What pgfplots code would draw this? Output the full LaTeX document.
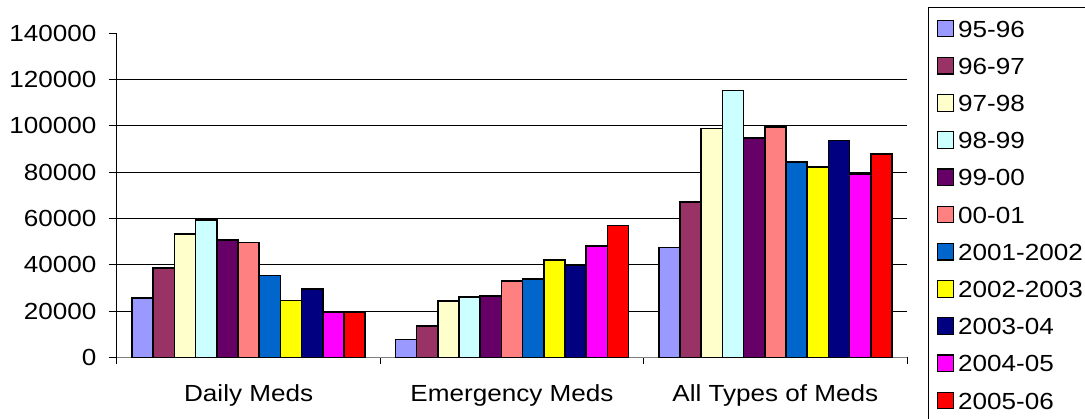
\documentclass[border=0pt]{standalone}
\usepackage{fontspec}
\setmainfont{Liberation Sans}[FakeStretch=1.12]
\usepackage{pgfplots}
\pgfplotsset{compat=1.18}

\definecolor{s1}{HTML}{9999FF}
\definecolor{s2}{HTML}{993366}
\definecolor{s3}{HTML}{FFFFCC}
\definecolor{s4}{HTML}{CCFFFF}
\definecolor{s5}{HTML}{660066}
\definecolor{s6}{HTML}{FF8080}
\definecolor{s7}{HTML}{0066CC}
\definecolor{s8}{HTML}{FFFF00}
\definecolor{s9}{HTML}{000080}
\definecolor{s10}{HTML}{FF00FF}
\definecolor{s11}{HTML}{FF0000}

\newcommand{\lab}{\fontsize{23.3}{28}\selectfont}

\begin{document}
\begin{tikzpicture}
% the picture is cut to the reference's frame; the legend box runs past it
\useasboundingbox (-117pt,-60.7pt) rectangle (968pt,357.3pt);
\begin{axis}[
    scale only axis,
    width=790pt,
    height=324pt,
    xmin=-0.5, xmax=2.5,
    ymin=0, ymax=140000,
    ybar=0pt,
    bar width=21.2pt,
    axis x line*=bottom,
    axis y line*=left,
    x axis line style={draw=black!50, line width=1.5pt},
    y axis line style={line width=1pt},
    xtick={0,1,2},
    xticklabels={Daily Meds, Emergency Meds, All Types of Meds},
    major x tick style={draw=none},
    minor xtick={-0.5,0.5,1.5,2.5},
    minor x tick style={black, line width=1pt},
    minor tick length=7pt,
    ytick={0,20000,40000,60000,80000,100000,120000},
    yticklabels={0,20000,40000,60000,80000,100000,120000},
    extra y ticks={140000},
    extra y tick labels={140000},
    extra y tick style={grid=none},
    ymajorgrids,
    grid style={black, line width=0.8pt},
    tick align=outside,
    major tick length=8pt,
    y tick style={black, line width=1pt},
    scaled y ticks=false,
    yticklabel style={font=\lab, xshift=-9pt},
    xticklabel style={font=\lab},
    xticklabel shift=16pt,
    legend cell align=left,
    legend style={at={(1.02658,1.0812)}, anchor=north west, draw=black,
        line width=1pt, fill=white, font=\lab, inner xsep=8pt, inner ysep=2.7pt,
        row sep=0pt, nodes={inner sep=0pt, text height=26.95pt, text depth=10.25pt}},
    legend image code/.code={%
        \draw[#1, line width=1.2pt] (0pt,-8pt) rectangle (16.5pt,8.5pt);
        \path[draw=none, fill=none] (0pt,0pt) -- (21pt,0pt);},
]
\addplot[fill=s1, draw=black, line width=1.6pt] coordinates {(0,25600) (1,7700) (2,47500)};
\addlegendentry{95-96}
\addplot[fill=s2, draw=black, line width=1.6pt] coordinates {(0,38700) (1,13500) (2,67000)};
\addlegendentry{96-97}
\addplot[fill=s3, draw=black, line width=1.6pt] coordinates {(0,53200) (1,24200) (2,98900)};
\addlegendentry{97-98}
\addplot[fill=s4, draw=black, line width=1.6pt] coordinates {(0,59300) (1,26100) (2,115200)};
\addlegendentry{98-99}
\addplot[fill=s5, draw=black, line width=1.6pt] coordinates {(0,50600) (1,26400) (2,94800)};
\addlegendentry{99-00}
\addplot[fill=s6, draw=black, line width=1.6pt] coordinates {(0,49600) (1,32900) (2,99500)};
\addlegendentry{00-01}
\addplot[fill=s7, draw=black, line width=1.6pt] coordinates {(0,35400) (1,33900) (2,84400)};
\addlegendentry{2001-2002}
\addplot[fill=s8, draw=black, line width=1.6pt] coordinates {(0,24500) (1,42000) (2,82100)};
\addlegendentry{2002-2003}
\addplot[fill=s9, draw=black, line width=1.6pt] coordinates {(0,29600) (1,39700) (2,93600)};
\addlegendentry{2003-04}
\addplot[fill=s10, draw=black, line width=1.6pt] coordinates {(0,19300) (1,48100) (2,79300)};
\addlegendentry{2004-05}
\addplot[fill=s11, draw=black, line width=1.6pt] coordinates {(0,19400) (1,57000) (2,87800)};
\addlegendentry{2005-06}
\end{axis}
\end{tikzpicture}
\end{document}
